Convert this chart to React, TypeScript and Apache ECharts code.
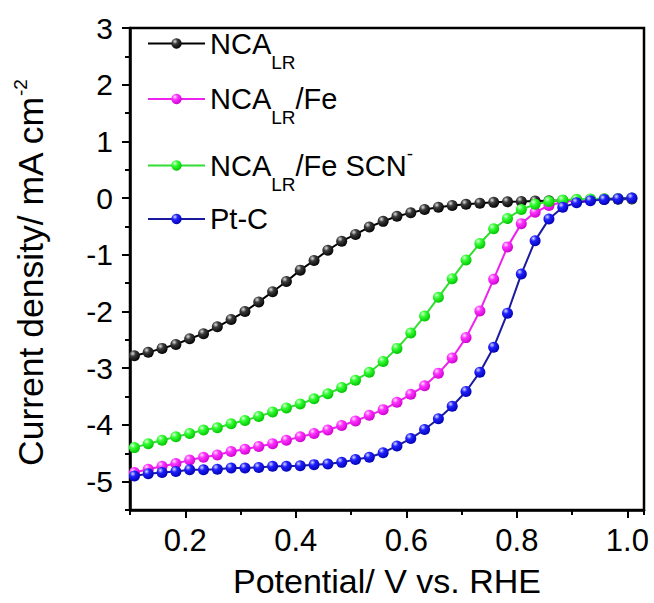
import React, { useEffect, useRef } from 'react';
import * as echarts from 'echarts';

// Potential (V vs. RHE) of each sampled point
const POTENTIAL = [
  0.108, 0.133, 0.158, 0.183, 0.208, 0.233, 0.258, 0.283, 0.308, 0.333,
  0.358, 0.383, 0.408, 0.433, 0.458, 0.483, 0.508, 0.533, 0.558, 0.583,
  0.608, 0.633, 0.658, 0.683, 0.708, 0.733, 0.758, 0.783, 0.808, 0.833,
  0.858, 0.883, 0.908, 0.933, 0.958, 0.983, 1.008,
];

// Current density (mA cm^-2)
const NCA_LR = [
  -2.78, -2.72, -2.65, -2.58, -2.48, -2.39, -2.27, -2.14, -2.0, -1.83,
  -1.65, -1.47, -1.27, -1.1, -0.92, -0.76, -0.64, -0.51, -0.41, -0.32,
  -0.26, -0.2, -0.16, -0.13, -0.11, -0.09, -0.075, -0.065, -0.058, -0.05,
  -0.045, -0.04, -0.035, -0.03, -0.025, -0.02, -0.015,
];
const NCA_LR_FE = [
  -4.84, -4.78, -4.73, -4.68, -4.62, -4.57, -4.53, -4.47, -4.43, -4.38,
  -4.33, -4.27, -4.21, -4.15, -4.09, -4.01, -3.93, -3.83, -3.73, -3.6,
  -3.46, -3.31, -3.09, -2.82, -2.46, -1.99, -1.43, -0.86, -0.45, -0.25,
  -0.13, -0.07, -0.04, -0.02, -0.01, -0.005, 0,
];
const NCA_LR_FE_SCN = [
  -4.4, -4.33, -4.27, -4.21, -4.15, -4.09, -4.05, -3.98, -3.92, -3.85,
  -3.77, -3.7, -3.63, -3.54, -3.45, -3.34, -3.21, -3.07, -2.88, -2.65,
  -2.38, -2.08, -1.75, -1.42, -1.09, -0.8, -0.54, -0.36, -0.2, -0.11,
  -0.06, -0.035, -0.02, -0.015, -0.01, -0.005, 0,
];
const PT_C = [
  -4.9, -4.86, -4.84, -4.82, -4.79, -4.79, -4.78, -4.76, -4.76, -4.75,
  -4.73, -4.73, -4.72, -4.7, -4.69, -4.66, -4.61, -4.57, -4.49, -4.37,
  -4.24, -4.08, -3.89, -3.67, -3.41, -3.07, -2.63, -2.03, -1.34, -0.75,
  -0.37, -0.16, -0.08, -0.045, -0.025, -0.01, 0,
];

const SERIES_NAMES = ['NCA_LR', 'NCA_LR/Fe', 'NCA_LR/Fe SCN-', 'Pt-C'];
const LEGEND_LABELS = [
  'NCA{sub|LR}',
  'NCA{sub|LR}/Fe',
  'NCA{sub|LR}/Fe SCN{sup|-}',
  'Pt-C',
];
const SERIES_VALUES = [NCA_LR, NCA_LR_FE, NCA_LR_FE_SCN, PT_C];

const X_LABEL_VALUES = [0.2, 0.4, 0.6, 0.8, 1.0];
const Y_LABEL_VALUES = [-5, -4, -3, -2, -1, 0, 1, 2, 3];

const X_TITLE = 'Potential/ V vs. RHE';
const Y_TITLE = 'Current density/ mA cm{sup|-2}{gap| }';

const FONT = "'Liberation Sans', Arial, Helvetica, sans-serif";

const STYLES = [
  { line: '#000000', hi: '#e0e0e0', base: '#3a3a3a', dark: '#000000' },
  { line: '#ee22ee', hi: '#ffe0ff', base: '#ff33ff', dark: '#cc00cc' },
  { line: '#33dd33', hi: '#e0ffe0', base: '#33ff33', dark: '#00c000' },
  { line: '#1a1a9e', hi: '#d8d8ff', base: '#2020ff', dark: '#0000b0' },
];
const LEGEND_TOPS = [29, 84.5, 143.5, 204.5];

export default function App() {
  const ref = useRef<HTMLDivElement>(null);

  useEffect(() => {
    if (!ref.current) return;
    const chart = echarts.init(ref.current, undefined, { renderer: 'svg' });

    const sphere = (s: typeof STYLES[number]) =>
      new echarts.graphic.RadialGradient(0.35, 0.3, 0.75, [
        { offset: 0, color: s.hi },
        { offset: 0.35, color: s.base },
        { offset: 1, color: s.dark },
      ]);

    const series = SERIES_NAMES.map((name, i) => ({
      name,
      type: 'line',
      xAxisIndex: 0,
      yAxisIndex: 0,
      data: POTENTIAL.map((x, j) => [x, SERIES_VALUES[i][j]]),
      symbol: 'circle',
      symbolSize: 11,
      showSymbol: true,
      lineStyle: { color: STYLES[i].line, width: 2 },
      itemStyle: { color: sphere(STYLES[i]), borderWidth: 0 },
      emphasis: { disabled: true },
      z: 2 + i,
    }));

    const legendText = {
      fontSize: 29,
      fontFamily: FONT,
      color: '#000',
      rich: {
        sub: { fontSize: 19, fontFamily: FONT, color: '#000', padding: [37, 0, 0, 0] },
        sup: { fontSize: 19, fontFamily: FONT, color: '#000', padding: [0, 0, 25, 0] },
      },
    };

    const legends = SERIES_NAMES.map((name, i) => ({
      data: [name],
      left: 147,
      top: LEGEND_TOPS[i],
      orient: 'vertical',
      padding: 0,
      itemWidth: 57,
      itemHeight: 13,
      itemGap: 0,
      selectedMode: false,
      formatter: (n: string) => LEGEND_LABELS[SERIES_NAMES.indexOf(n)],
      textStyle: legendText,
    }));

    const axisLineStyle = { color: '#000', width: 2.5 };

    chart.setOption({
      animation: false,
      backgroundColor: '#ffffff',
      textStyle: { fontFamily: FONT, color: '#000' },
      grid: {
        left: 130,
        right: 10,
        top: 28,
        bottom: 88,
        show: true,
        borderColor: '#000',
        borderWidth: 2.5,
        backgroundColor: 'transparent',
      },
      legend: legends,
      xAxis: [
        {
          type: 'value',
          min: 0.1,
          max: 1.03,
          interval: 0.1,
          position: 'bottom',
          axisLine: { show: true, onZero: false, lineStyle: axisLineStyle },
          axisTick: { show: true, inside: false, length: 5, lineStyle: { color: '#000', width: 2 } },
          axisLabel: { show: false },
          splitLine: { show: false },
        },
        {
          type: 'value',
          min: 0.1,
          max: 1.03,
          position: 'bottom',
          axisLine: { show: false, onZero: false },
          axisTick: {
            show: true,
            inside: false,
            length: 8,
            customValues: X_LABEL_VALUES,
            lineStyle: { color: '#000', width: 2 },
          },
          axisLabel: {
            show: true,
            customValues: X_LABEL_VALUES,
            fontSize: 31,
            fontFamily: FONT,
            color: '#000',
            margin: 15,
            formatter: (v: number) => v.toFixed(1),
          },
          splitLine: { show: false },
          name: X_TITLE,
          nameLocation: 'middle',
          nameGap: 54,
          nameTextStyle: { fontSize: 34, fontFamily: FONT, color: '#000' },
        },
      ],
      yAxis: [
        {
          type: 'value',
          min: -5.5,
          max: 3,
          interval: 0.5,
          position: 'left',
          axisLine: { show: true, onZero: false, lineStyle: axisLineStyle },
          axisTick: { show: true, inside: false, length: 5, lineStyle: { color: '#000', width: 2 } },
          axisLabel: { show: false },
          splitLine: { show: false },
        },
        {
          type: 'value',
          min: -5.5,
          max: 3,
          position: 'left',
          axisLine: { show: false, onZero: false },
          axisTick: {
            show: true,
            inside: false,
            length: 8,
            customValues: Y_LABEL_VALUES,
            lineStyle: { color: '#000', width: 2 },
          },
          axisLabel: {
            show: true,
            customValues: Y_LABEL_VALUES,
            fontSize: 30,
            fontFamily: FONT,
            color: '#000',
            margin: 17,
            formatter: (v: number) => String(v),
          },
          splitLine: { show: false },
          name: Y_TITLE,
          nameLocation: 'middle',
          nameRotate: 90,
          nameGap: 80,
          nameTextStyle: {
            fontSize: 35.5,
            fontFamily: FONT,
            color: '#000',
            rich: {
              sup: { fontSize: 19, fontFamily: FONT, color: '#000', padding: [0, 0, 20, 0] },
              gap: { fontSize: 10, width: 8 },
            },
          },
        },
      ],
      series,
    });

    return () => chart.dispose();
  }, []);

  return (
    <div
      ref={ref}
      style={{ position: 'fixed', left: 0, top: 0, width: 654, height: 603, background: '#fff' }}
    />
  );
}
